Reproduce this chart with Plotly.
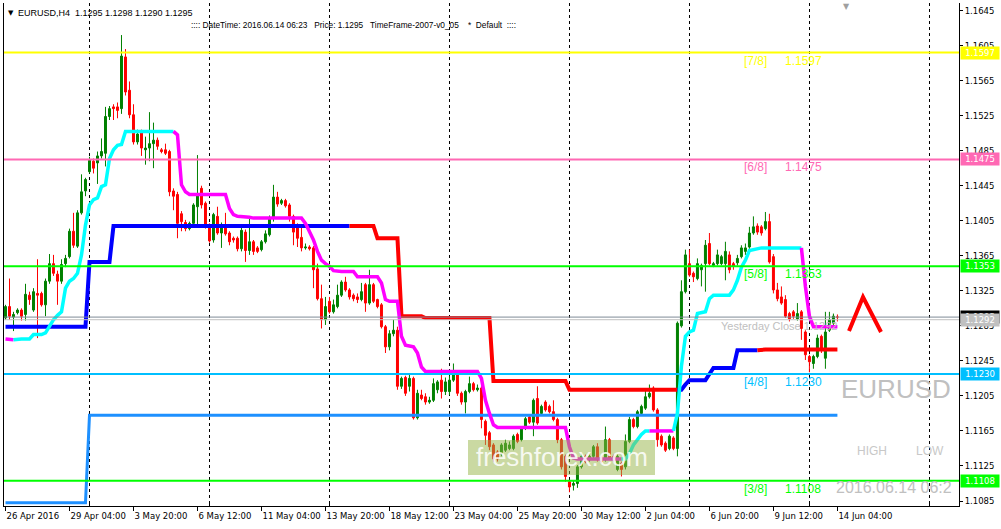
import plotly.graph_objects as go

# ---------------- data ----------------
tick_labels = ["26 Apr 2016", "29 Apr 04:00", "3 May 20:00", "6 May 12:00", "11 May 04:00",
               "13 May 20:00", "18 May 12:00", "23 May 04:00", "25 May 20:00", "30 May 12:00",
               "2 Jun 04:00", "6 Jun 20:00", "9 Jun 12:00", "14 Jun 04:00"]
tick_bars = [0, 16, 32, 48, 64, 80, 96, 112, 128, 144, 160, 176, 192, 208]

opens = [
    1.1294, 1.1307, 1.1295, 1.1300, 1.1303, 1.1298, 1.1320, 1.1303, 1.1322, 1.1322,
    1.1309, 1.1336, 1.1356, 1.1344, 1.1336, 1.1356, 1.1364, 1.1393, 1.1376, 1.1414,
    1.1439, 1.1461, 1.1473, 1.1471, 1.1479, 1.1482, 1.1524, 1.1535, 1.1535, 1.1533,
    1.1592, 1.1554, 1.1526, 1.1495, 1.1506, 1.1486, 1.1488, 1.1493, 1.1497, 1.1486,
    1.1486, 1.1484, 1.1439, 1.1435, 1.1413, 1.1403, 1.1396, 1.1402, 1.1421, 1.1442,
    1.1425, 1.1400, 1.1383, 1.1410, 1.1391, 1.1398, 1.1391, 1.1385, 1.1385, 1.1373,
    1.1392, 1.1371, 1.1381, 1.1374, 1.1372, 1.1381, 1.1389, 1.1408, 1.1432, 1.1425,
    1.1428, 1.1423, 1.1410, 1.1400, 1.1386, 1.1374, 1.1375, 1.1374, 1.1350, 1.1316,
    1.1292, 1.1313, 1.1301, 1.1307, 1.1320, 1.1335, 1.1326, 1.1320, 1.1318, 1.1315,
    1.1332, 1.1311, 1.1332, 1.1315, 1.1309, 1.1284, 1.1261, 1.1276, 1.1280, 1.1216,
    1.1226, 1.1216, 1.1225, 1.1180, 1.1206, 1.1204, 1.1198, 1.1200, 1.1212, 1.1223,
    1.1210, 1.1210, 1.1223, 1.1229, 1.1208, 1.1198, 1.1210, 1.1219, 1.1212, 1.1214,
    1.1176, 1.1163, 1.1149, 1.1141, 1.1139, 1.1143, 1.1145, 1.1145, 1.1161, 1.1155,
    1.1168, 1.1181, 1.1175, 1.1202, 1.1185, 1.1198, 1.1193, 1.1187, 1.1178, 1.1155,
    1.1136, 1.1107, 1.1103, 1.1105, 1.1124, 1.1136, 1.1132, 1.1136, 1.1147, 1.1134,
    1.1132, 1.1155, 1.1136, 1.1121, 1.1128, 1.1124, 1.1153, 1.1178, 1.1170, 1.1185,
    1.1191, 1.1204, 1.1214, 1.1189, 1.1159, 1.1151, 1.1145, 1.1157, 1.1145, 1.1285,
    1.1324, 1.1356, 1.1345, 1.1339, 1.1349, 1.1356, 1.1379, 1.1354, 1.1356, 1.1356,
    1.1356, 1.1366, 1.1356, 1.1357, 1.1364, 1.1370, 1.1375, 1.1391, 1.1399, 1.1398,
    1.1396, 1.1404, 1.1364, 1.1326, 1.1318, 1.1315, 1.1299, 1.1301, 1.1293, 1.1301,
    1.1278, 1.1250, 1.1242, 1.1250, 1.1273, 1.1248, 1.1280, 1.1288, 1.1295]
highs = [
    1.1309, 1.1339, 1.1301, 1.1305, 1.1305, 1.1333, 1.1324, 1.1328, 1.1361, 1.1324,
    1.1339, 1.1367, 1.1366, 1.1348, 1.1361, 1.1366, 1.1396, 1.1414, 1.1417, 1.1458,
    1.1454, 1.1478, 1.1476, 1.1484, 1.1499, 1.1535, 1.1536, 1.1538, 1.1540, 1.1617,
    1.1601, 1.1564, 1.1538, 1.1509, 1.1509, 1.1501, 1.1529, 1.1517, 1.1500, 1.1488,
    1.1493, 1.1486, 1.1442, 1.1438, 1.1416, 1.1406, 1.1404, 1.1425, 1.1480, 1.1445,
    1.1427, 1.1402, 1.1414, 1.1421, 1.1403, 1.1414, 1.1393, 1.1387, 1.1387, 1.1400,
    1.1395, 1.1410, 1.1383, 1.1376, 1.1383, 1.1394, 1.1411, 1.1446, 1.1438, 1.1430,
    1.1430, 1.1425, 1.1412, 1.1402, 1.1398, 1.1379, 1.1377, 1.1376, 1.1356, 1.1332,
    1.1318, 1.1318, 1.1315, 1.1332, 1.1337, 1.1341, 1.1328, 1.1322, 1.1322, 1.1334,
    1.1334, 1.1349, 1.1334, 1.1316, 1.1311, 1.1286, 1.1280, 1.1292, 1.1284, 1.1227,
    1.1228, 1.1229, 1.1227, 1.1212, 1.1212, 1.1208, 1.1204, 1.1225, 1.1223, 1.1236,
    1.1226, 1.1228, 1.1242, 1.1233, 1.1210, 1.1212, 1.1227, 1.1221, 1.1218, 1.1216,
    1.1178, 1.1165, 1.1151, 1.1143, 1.1151, 1.1155, 1.1153, 1.1161, 1.1163, 1.1170,
    1.1181, 1.1183, 1.1202, 1.1216, 1.1195, 1.1200, 1.1195, 1.1200, 1.1180, 1.1157,
    1.1138, 1.1109, 1.1109, 1.1126, 1.1139, 1.1138, 1.1138, 1.1149, 1.1151, 1.1136,
    1.1170, 1.1157, 1.1138, 1.1138, 1.1130, 1.1161, 1.1181, 1.1180, 1.1189, 1.1195,
    1.1212, 1.1218, 1.1216, 1.1191, 1.1161, 1.1153, 1.1161, 1.1159, 1.1290, 1.1337,
    1.1372, 1.1372, 1.1347, 1.1362, 1.1356, 1.1383, 1.1391, 1.1358, 1.1372, 1.1366,
    1.1381, 1.1370, 1.1358, 1.1366, 1.1377, 1.1379, 1.1398, 1.1410, 1.1402, 1.1400,
    1.1415, 1.1413, 1.1367, 1.1334, 1.1330, 1.1320, 1.1301, 1.1303, 1.1311, 1.1303,
    1.1280, 1.1252, 1.1252, 1.1275, 1.1275, 1.1301, 1.1301, 1.1299, 1.1298]
lows = [
    1.1292, 1.1292, 1.1279, 1.1298, 1.1291, 1.1291, 1.1309, 1.1301, 1.1271, 1.1307,
    1.1296, 1.1333, 1.1342, 1.1309, 1.1333, 1.1352, 1.1362, 1.1374, 1.1374, 1.1412,
    1.1433, 1.1459, 1.1459, 1.1447, 1.1476, 1.1467, 1.1520, 1.1520, 1.1522, 1.1527,
    1.1548, 1.1522, 1.1492, 1.1492, 1.1479, 1.1469, 1.1473, 1.1465, 1.1486, 1.1482,
    1.1480, 1.1433, 1.1417, 1.1385, 1.1393, 1.1393, 1.1394, 1.1398, 1.1401, 1.1419,
    1.1396, 1.1380, 1.1380, 1.1389, 1.1374, 1.1388, 1.1377, 1.1380, 1.1370, 1.1370,
    1.1358, 1.1366, 1.1366, 1.1368, 1.1370, 1.1379, 1.1387, 1.1404, 1.1421, 1.1423,
    1.1420, 1.1404, 1.1377, 1.1375, 1.1370, 1.1372, 1.1371, 1.1328, 1.1314, 1.1282,
    1.1286, 1.1299, 1.1299, 1.1305, 1.1318, 1.1324, 1.1315, 1.1313, 1.1311, 1.1313,
    1.1301, 1.1309, 1.1311, 1.1305, 1.1282, 1.1254, 1.1257, 1.1273, 1.1212, 1.1213,
    1.1205, 1.1210, 1.1178, 1.1178, 1.1200, 1.1195, 1.1196, 1.1198, 1.1208, 1.1202,
    1.1206, 1.1206, 1.1221, 1.1205, 1.1195, 1.1185, 1.1208, 1.1210, 1.1210, 1.1168,
    1.1149, 1.1143, 1.1130, 1.1130, 1.1136, 1.1141, 1.1143, 1.1143, 1.1151, 1.1153,
    1.1166, 1.1173, 1.1159, 1.1172, 1.1183, 1.1187, 1.1185, 1.1176, 1.1151, 1.1121,
    1.1107, 1.1095, 1.1097, 1.1100, 1.1122, 1.1128, 1.1130, 1.1134, 1.1130, 1.1128,
    1.1130, 1.1132, 1.1130, 1.1119, 1.1113, 1.1121, 1.1151, 1.1168, 1.1168, 1.1183,
    1.1189, 1.1202, 1.1187, 1.1147, 1.1147, 1.1141, 1.1143, 1.1143, 1.1136, 1.1283,
    1.1322, 1.1341, 1.1335, 1.1337, 1.1330, 1.1324, 1.1354, 1.1352, 1.1354, 1.1354,
    1.1337, 1.1345, 1.1349, 1.1354, 1.1362, 1.1366, 1.1373, 1.1389, 1.1389, 1.1388,
    1.1394, 1.1356, 1.1322, 1.1313, 1.1309, 1.1294, 1.1290, 1.1293, 1.1291, 1.1269,
    1.1246, 1.1232, 1.1236, 1.1248, 1.1254, 1.1236, 1.1278, 1.1286, 1.1290]
closes = [
    1.1307, 1.1296, 1.1298, 1.1303, 1.1296, 1.1321, 1.1315, 1.1324, 1.1320, 1.1309,
    1.1336, 1.1356, 1.1345, 1.1336, 1.1355, 1.1362, 1.1393, 1.1377, 1.1414, 1.1438,
    1.1452, 1.1474, 1.1465, 1.1479, 1.1484, 1.1524, 1.1533, 1.1533, 1.1531, 1.1593,
    1.1552, 1.1526, 1.1495, 1.1504, 1.1488, 1.1488, 1.1493, 1.1497, 1.1490, 1.1484,
    1.1482, 1.1438, 1.1433, 1.1402, 1.1404, 1.1396, 1.1402, 1.1423, 1.1435, 1.1423,
    1.1400, 1.1382, 1.1412, 1.1391, 1.1400, 1.1390, 1.1381, 1.1383, 1.1373, 1.1394,
    1.1371, 1.1381, 1.1370, 1.1370, 1.1381, 1.1390, 1.1407, 1.1432, 1.1424, 1.1428,
    1.1422, 1.1410, 1.1392, 1.1385, 1.1374, 1.1375, 1.1373, 1.1349, 1.1316, 1.1292,
    1.1307, 1.1301, 1.1309, 1.1320, 1.1335, 1.1326, 1.1318, 1.1316, 1.1315, 1.1324,
    1.1311, 1.1332, 1.1313, 1.1307, 1.1284, 1.1261, 1.1276, 1.1280, 1.1216, 1.1225,
    1.1208, 1.1225, 1.1180, 1.1208, 1.1202, 1.1198, 1.1200, 1.1219, 1.1221, 1.1210,
    1.1221, 1.1223, 1.1231, 1.1208, 1.1198, 1.1210, 1.1219, 1.1212, 1.1214, 1.1178,
    1.1160, 1.1147, 1.1133, 1.1133, 1.1149, 1.1151, 1.1149, 1.1159, 1.1153, 1.1168,
    1.1179, 1.1175, 1.1200, 1.1174, 1.1193, 1.1189, 1.1187, 1.1178, 1.1155, 1.1124,
    1.1113, 1.1101, 1.1105, 1.1124, 1.1136, 1.1130, 1.1136, 1.1147, 1.1132, 1.1130,
    1.1155, 1.1134, 1.1132, 1.1136, 1.1121, 1.1153, 1.1178, 1.1170, 1.1187, 1.1193,
    1.1204, 1.1208, 1.1189, 1.1155, 1.1149, 1.1143, 1.1159, 1.1145, 1.1288, 1.1324,
    1.1366, 1.1343, 1.1341, 1.1356, 1.1354, 1.1377, 1.1356, 1.1356, 1.1366, 1.1364,
    1.1370, 1.1349, 1.1353, 1.1362, 1.1374, 1.1374, 1.1391, 1.1398, 1.1392, 1.1391,
    1.1404, 1.1358, 1.1326, 1.1316, 1.1311, 1.1296, 1.1293, 1.1296, 1.1299, 1.1282,
    1.1252, 1.1244, 1.1250, 1.1271, 1.1258, 1.1278, 1.1292, 1.1296, 1.1295]

# smoothed trend line (cyan rising / magenta falling), as (value, number of bars)
mid_runs = [(1.1270, 1), (1.1269, 2), (1.1270, 4), (1.1275, 3), (1.1277, 1), (1.1284, 1),
            (1.1292, 1), (1.1297, 1), (1.1301, 1), (1.1328, 1), (1.1336, 1), (1.1339, 1),
            (1.1345, 1), (1.1366, 1), (1.1400, 1), (1.1423, 1), (1.1429, 1), (1.1431, 1),
            (1.1444, 1), (1.1446, 1), (1.1476, 1), (1.1486, 1), (1.1491, 1), (1.1492, 1),
            (1.1507, 13), (1.1503, 1), (1.1446, 1), (1.1438, 1), (1.1435, 10), (1.1419, 1),
            (1.1412, 1), (1.1410, 3), (1.1409, 1), (1.1408, 13), (1.1402, 1), (1.1392, 1),
            (1.1383, 1), (1.1370, 1), (1.1360, 1), (1.1356, 1), (1.1353, 1), (1.1348, 1),
            (1.1347, 5), (1.1341, 6), (1.1334, 1), (1.1315, 1), (1.1313, 3), (1.1273, 1),
            (1.1263, 1), (1.1262, 1), (1.1261, 1), (1.1254, 1), (1.1238, 1), (1.1233, 14),
            (1.1225, 1), (1.1200, 1), (1.1185, 1), (1.1172, 1), (1.1169, 18), (1.1147, 1),
            (1.1134, 1), (1.1133, 13), (1.1139, 1), (1.1149, 1), (1.1155, 1), (1.1161, 1),
            (1.1165, 8), (1.1185, 1), (1.1239, 1), (1.1273, 1), (1.1278, 1), (1.1280, 1),
            (1.1299, 1), (1.1300, 1), (1.1301, 1), (1.1316, 1), (1.1320, 5), (1.1326, 1),
            (1.1337, 1), (1.1352, 1), (1.1360, 1), (1.1371, 1), (1.1372, 1), (1.1374, 12),
            (1.1330, 1), (1.1296, 1), (1.1284, 7)]
mid_turns = [(0, "down"), (3, "up"), (43, "down"), (155, "up"), (162, "down"), (168, "up"), (200, "down")]

# thick blue/red level line
level_runs = [(1.1284, 21), (1.1358, 6), (1.1399, 66), (1.1385, 6), (1.1296, 6), (1.1294, 17),
              (1.1222, 19), (1.1212, 29), (1.1218, 1), (1.1223, 5), (1.1230, 1), (1.1237, 6),
              (1.1257, 6), (1.1258, 20)]
level_turns = [(0, "up"), (87, "down"), (169, "up"), (189, "down")]

# dodger-blue support line
support_runs = [(1.1083, 21), (1.1183, 188)]

# Murrey math levels
mm_names = ["[7/8]", "[6/8]", "[5/8]", "[4/8]", "[3/8]"]
mm_levels = [1.1597, 1.1475, 1.1353, 1.1230, 1.1108]
mm_colors = ["#FFFF00", "#FF69B4", "#00FF00", "#00BFFF", "#00FF00"]

bid_price = 1.1295
yesterday_close = 1.1292
y_ticks = [1.1085, 1.1125, 1.1165, 1.1205, 1.1245, 1.1285, 1.1325, 1.1365, 1.1405,
           1.1445, 1.1485, 1.1525, 1.1565, 1.1605, 1.1645]

# ---------------- helpers ----------------
W, H = 1001, 529
L, R, T, B = 4, 959, 3, 506
X0, X1 = -0.375, 238.4
Y_TOP, Y_BOT = 1.16536, 1.10793


def px_x(px):
    return X0 + (px - L) / (R - L) * (X1 - X0)


def px_y(py):
    return Y_TOP - (py - T) / (B - T) * (Y_TOP - Y_BOT)


def expand(runs):
    out = []
    for v, n in runs:
        out.extend([v] * n)
    return out


n = len(closes)
bars = list(range(n))

fig = go.Figure()
fig.add_trace(go.Candlestick(
    x=bars, open=opens, high=highs, low=lows, close=closes,
    increasing=dict(line=dict(color="#008000", width=1), fillcolor="#008000"),
    decreasing=dict(line=dict(color="#FF0000", width=1), fillcolor="#FF0000"),
    whiskerwidth=0, showlegend=False, hoverinfo="skip"))


def add_colored(vals, turns, colors, width):
    starts = [t[0] for t in turns] + [len(vals)]
    for k, (s, key) in enumerate(turns):
        e = starts[k + 1]
        a = max(s - 1, 0)
        fig.add_trace(go.Scatter(x=list(range(a, e)), y=vals[a:e], mode="lines",
                                 line=dict(color=colors[key], width=width),
                                 showlegend=False, hoverinfo="skip"))


support = expand(support_runs)
fig.add_trace(go.Scatter(x=list(range(len(support))), y=support, mode="lines",
                         line=dict(color="#1E90FF", width=3), showlegend=False, hoverinfo="skip"))
add_colored(expand(level_runs), level_turns, {"up": "#0000FF", "down": "#FF0000"}, 4)
add_colored(expand(mid_runs), mid_turns, {"up": "#00FFFF", "down": "#FF00FF"}, 3.5)

shapes = []
for lv, c in zip(mm_levels, mm_colors):
    shapes.append(dict(type="line", xref="paper", x0=0, x1=1, yref="y", y0=lv, y1=lv,
                       line=dict(color=c, width=2)))
shapes.append(dict(type="line", xref="paper", x0=0, x1=1, yref="y", y0=bid_price, y1=bid_price,
                   line=dict(color="#7F8A96", width=1)))
shapes.append(dict(type="line", xref="paper", x0=0, x1=1, yref="y", y0=yesterday_close,
                   y1=yesterday_close, line=dict(color="#C0C0C0", width=1)))
# watermark box
shapes.append(dict(type="rect", xref="x", yref="y", x0=px_x(468), x1=px_x(655),
                   y0=px_y(475), y1=px_y(440), fillcolor="rgba(150,180,70,0.5)",
                   line=dict(width=0), layer="above"))
# red up-chevron signal glyph
shapes.append(dict(type="path", xref="x", yref="y", layer="above",
                   path="M %f,%f L %f,%f L %f,%f" % (px_x(849), px_y(331), px_x(863), px_y(297),
                                                     px_x(881), px_y(332)),
                   line=dict(color="#FF0000", width=4)))

ann = []
LS = "Liberation Sans"
DV = "DejaVu Sans"
for name, lv, c in zip(mm_names, mm_levels, mm_colors):
    ann.append(dict(x=px_x(742), y=lv, xref="x", yref="y", text=name, showarrow=False,
                    xanchor="left", yanchor="top", yshift=1, font=dict(family=LS, size=12, color=c)))
    ann.append(dict(x=px_x(783), y=lv, xref="x", yref="y", text="%.4f" % lv, showarrow=False,
                    xanchor="left", yanchor="top", yshift=1, font=dict(family=LS, size=12, color=c)))

ann.append(dict(x=px_x(719), y=px_y(326), xref="x", yref="y", text="Yesterday Close %.4f" % yesterday_close,
                showarrow=False, xanchor="left", yanchor="middle", font=dict(family=LS, size=11, color="#C0C0C0")))
ann.append(dict(x=px_x(839), y=px_y(389), xref="x", yref="y", text="EURUSD", showarrow=False,
                xanchor="left", yanchor="middle", font=dict(family=LS, size=26, color="#C0C0C0")))
ann.append(dict(x=px_x(855), y=px_y(451), xref="x", yref="y", text="HIGH", showarrow=False,
                xanchor="left", yanchor="middle", font=dict(family=LS, size=12, color="#C8C8C8")))
ann.append(dict(x=px_x(914), y=px_y(451), xref="x", yref="y", text="LOW", showarrow=False,
                xanchor="left", yanchor="middle", font=dict(family=LS, size=12, color="#C8C8C8")))
ann.append(dict(x=px_x(834), y=px_y(487), xref="x", yref="y", text="2016.06.14 06:2", showarrow=False,
                xanchor="left", yanchor="middle", font=dict(family=LS, size=16, color="#C0C0C0")))
ann.append(dict(x=px_x(562), y=px_y(457), xref="x", yref="y", text="freshforex.com", showarrow=False,
                xanchor="center", yanchor="middle", font=dict(family=LS, size=26, color="rgba(255,255,255,0.85)")))
# header
ann.append(dict(x=px_x(6), y=px_y(13), xref="x", yref="y", text="\u25bc", showarrow=False,
                xanchor="left", yanchor="middle", font=dict(family=DV, size=7, color="black")))
ann.append(dict(x=px_x(16), y=px_y(13), xref="x", yref="y",
                text="EURUSD,H4\u00a0\u00a01.1295 1.1298 1.1290 1.1295", showarrow=False,
                xanchor="left", yanchor="middle", font=dict(family=LS, size=9, color="black")))
sp = "\u00a0"
hdr2 = (":::: DateTime: 2016.06.14 06:23" + sp * 3 + "Price: 1.1295" + sp * 3 + "TimeFrame-2007-v0_05"
        + sp * 4 + "*" + sp * 2 + "Default" + sp * 2 + "::::")
ann.append(dict(x=px_x(189), y=px_y(25), xref="x", yref="y", text=hdr2, showarrow=False,
                xanchor="left", yanchor="middle", font=dict(family=LS, size=8.3, color="black")))
ann.append(dict(x=px_x(846), y=px_y(6), xref="x", yref="y", text="\u25bc", showarrow=False,
                xanchor="center", yanchor="middle", font=dict(family=DV, size=8, color="#A0A0A0")))

# right axis price boxes
boxes = [(mm_levels[0], mm_colors[0]), (mm_levels[1], mm_colors[1]), (mm_levels[2], mm_colors[2]),
         (bid_price, "#000000"), (yesterday_close, "#C0C0C0"), (mm_levels[3], mm_colors[3]),
         (mm_levels[4], mm_colors[4])]
for lv, c in boxes:
    ann.append(dict(x=1, y=lv, xref="paper", yref="y", text="%.4f" % lv, showarrow=False,
                    xanchor="left", yanchor="middle", xshift=1, width=38, height=12,
                    bgcolor=c, borderpad=0, font=dict(family=DV, size=8.5, color="white")))

fig.update_layout(
    template="none",
    width=W, height=H, margin=dict(l=L, r=W - R, t=T, b=H - B, pad=0, autoexpand=False),
    paper_bgcolor="white", plot_bgcolor="white", showlegend=False,
    shapes=shapes, annotations=ann,
    xaxis=dict(range=[X0, X1], tickmode="array", tickvals=tick_bars, ticktext=tick_labels,
               ticks="outside", ticklen=4, tickcolor="black", ticklabelposition="outside right",
               tickangle=0, automargin=False, ticklabelstandoff=2,
               tickfont=dict(family=DV, size=8.5, color="black"),
               showline=True, linecolor="black", linewidth=1, showgrid=False, zeroline=False,
               rangeslider=dict(visible=False), fixedrange=True,
               minor=dict(tick0=21, dtick=30, showgrid=True, gridcolor="black", gridwidth=1,
                          griddash="3px,3px", ticks="inside", ticklen=4, tickcolor="black")),
    yaxis=dict(range=[Y_BOT, Y_TOP], side="right", tickmode="array", tickvals=y_ticks,
               ticktext=["%.4f" % v for v in y_ticks], ticks="outside", ticklen=3, tickcolor="black",
               tickfont=dict(family=DV, size=8.5, color="black"), automargin=False,
               showline=True, mirror=True, linecolor="black", linewidth=1, showgrid=False,
               zeroline=False, fixedrange=True),
)

fig.write_html("out.html", config={"displayModeBar": False, "staticPlot": True},
               post_script="document.body.style.margin='0';document.body.style.overflow='hidden';")
